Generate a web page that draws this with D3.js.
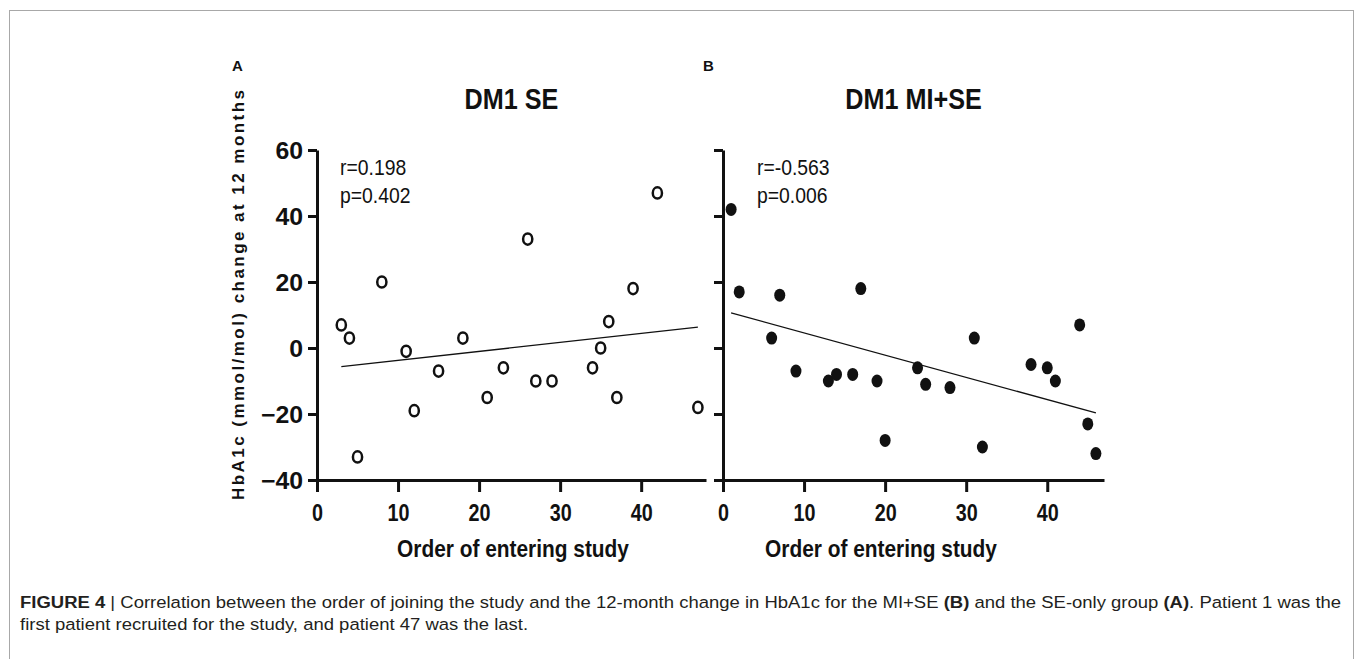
<!DOCTYPE html>
<html>
<head>
<meta charset="utf-8">
<script src="https://cdn.jsdelivr.net/npm/d3@7"></script>
<style>
  body { margin: 0; background: #fff; }
  svg { display: block; }
</style>
</head>
<body>
<div id="chart"></div>
<script>
// Panel A: SE only (open circles)
const seOrder  = [3, 4, 5, 8, 11, 12, 15, 18, 21, 23, 26, 27, 29, 34, 35, 36, 37, 39, 42, 47];
const seChange = [7, 3, -33, 20, -1, -19, -7, 3, -15, -6, 33, -10, -10, -6, 0, 8, -15, 18, 47, -18];
// Panel B: MI+SE (filled circles)
const miseOrder  = [1, 2, 6, 7, 9, 13, 14, 16, 17, 19, 20, 24, 25, 28, 31, 32, 38, 40, 41, 44, 45, 46];
const miseChange = [42, 17, 3, 16, -7, -10, -8, -8, 18, -10, -28, -6, -11, -12, 3, -30, -5, -6, -10, 7, -23, -32];

const yTicks = [-40, -20, 0, 20, 40, 60];
const xTicks = [0, 10, 20, 30, 40];
const panelLetters = ['A', 'B'];
const panelTitles = ['DM1 SE', 'DM1 MI+SE'];
const panelStats = [['r=0.198', 'p=0.402'], ['r=-0.563', 'p=0.006']];
const yTitle = 'HbA1c (mmol/mol) change at 12 months';
const xTitle = 'Order of entering study';

const W = 1355, H = 659;
const FONT = "'Liberation Sans', Arial, Helvetica, sans-serif";

const svg = d3.select('#chart').append('svg')
  .attr('width', W)
  .attr('height', H);

// cadre gris autour de la figure
svg.append('rect')
  .attr('x', 9.5).attr('y', 10.5)
  .attr('width', 1344).attr('height', 700)
  .attr('fill', 'none')
  .attr('stroke', '#a8a8a8')
  .attr('stroke-width', 1);

// texte étroit : on compresse horizontalement
function label(g, x, y, txt, size, weight, sx, anchor) {
  return g.append('text')
    .attr('transform', `translate(${x},${y}) scale(${sx},1)`)
    .attr('text-anchor', anchor || 'middle')
    .attr('font-family', FONT)
    .attr('font-size', size)
    .attr('font-weight', weight)
    .attr('fill', '#111')
    .text(txt);
}

const y = d3.scaleLinear().domain([-40, 60]).range([480, 150]);

const panels = [
  { xs: seOrder, ys: seChange, xRange: [317, 706], xMax: 48, filled: false, yLabels: true,
    letterX: 232, statsX: 340, xTitleX: 513 },
  { xs: miseOrder, ys: miseChange, xRange: [723, 1104], xMax: 47, filled: true, yLabels: false,
    letterX: 703, statsX: 757, xTitleX: 881 }
];

panels.forEach((p, i) => {
  const g = svg.append('g');
  const x = d3.scaleLinear().domain([0, p.xMax]).range(p.xRange);
  const x0 = p.xRange[0];
  const cx = (p.xRange[0] + p.xRange[1]) / 2;

  // axe Y
  const yAxis = d3.axisLeft(y).tickValues(yTicks).tickSize(9).tickSizeOuter(0)
    .tickFormat(p.yLabels ? d3.format('d') : () => '');
  const gy = g.append('g').attr('transform', `translate(${x0},0)`).call(yAxis);
  gy.selectAll('path, line').attr('stroke', '#111').attr('stroke-width', 3);
  const syY = 1.08;
  gy.selectAll('text')
    .attr('font-family', FONT).attr('font-size', 23).attr('font-weight', 'bold')
    .attr('fill', '#111')
    .attr('x', -14 / syY).attr('dy', '0.36em')
    .attr('transform', `scale(${syY},1)`);

  // axe X
  const xAxis = d3.axisBottom(x).tickValues(xTicks).tickSize(12).tickSizeOuter(0)
    .tickFormat(d3.format('d'));
  const gx = g.append('g').attr('transform', `translate(0,${y(-40)})`).call(xAxis);
  gx.selectAll('path, line').attr('stroke', '#111').attr('stroke-width', 3);
  gx.selectAll('text')
    .attr('font-family', FONT).attr('font-size', 23).attr('font-weight', 'bold')
    .attr('fill', '#111')
    .attr('x', 0).attr('y', 0).attr('dy', '1.78em')
    .attr('transform', 'scale(0.86,1)');

  // droite de régression (moindres carrés)
  const mx = d3.mean(p.xs), my = d3.mean(p.ys);
  const sxy = d3.sum(p.xs, (v, k) => (v - mx) * (p.ys[k] - my));
  const sxx = d3.sum(p.xs, v => (v - mx) * (v - mx));
  const slope = sxy / sxx, icpt = my - slope * mx;
  const [xa, xb] = d3.extent(p.xs);
  g.append('line')
    .attr('x1', x(xa)).attr('y1', y(icpt + slope * xa))
    .attr('x2', x(xb)).attr('y2', y(icpt + slope * xb))
    .attr('stroke', '#111').attr('stroke-width', 1.3);

  // points
  const pts = p.xs.map((v, k) => ({ x: v, y: p.ys[k] }));
  g.append('g').selectAll('ellipse')
    .data(pts)
    .enter()
    .append('ellipse')
    .attr('cx', d => x(d.x))
    .attr('cy', d => y(d.y))
    .attr('rx', p.filled ? 5.5 : 4.6)
    .attr('ry', p.filled ? 6.5 : 5.6)
    .attr('fill', p.filled ? '#111' : '#fff')
    .attr('stroke', '#111')
    .attr('stroke-width', p.filled ? 0 : 2.5);

  // lettre du panneau
  g.append('text')
    .attr('x', p.letterX).attr('y', 71)
    .attr('font-family', FONT).attr('font-size', 15).attr('font-weight', 'bold')
    .attr('fill', '#111')
    .text(panelLetters[i]);

  // titre
  label(g, cx, 109, panelTitles[i], 30, 'bold', 0.84);

  // r et p
  label(g, p.statsX, 175, panelStats[i][0], 22, 'normal', 0.88, 'start');
  label(g, p.statsX, 203, panelStats[i][1], 22, 'normal', 0.88, 'start');

  // titre axe X
  label(g, p.xTitleX, 557, xTitle, 24, 'bold', 0.87);
});

// titre axe Y
svg.append('text')
  .attr('transform', 'translate(244,295) rotate(-90)')
  .attr('text-anchor', 'middle')
  .attr('font-family', FONT).attr('font-size', 17).attr('font-weight', 'bold')
  .attr('fill', '#111')
  .attr('textLength', 410).attr('lengthAdjust', 'spacing')
  .text(yTitle);

// légende de la figure
const cap = svg.append('g').attr('font-family', FONT).attr('font-size', 17).attr('fill', '#231f20');
const line1 = cap.append('text').attr('y', 0);
line1.append('tspan').attr('font-weight', 'bold').text('FIGURE 4');
line1.append('tspan').text(' | Correlation between the order of joining the study and the 12-month change in HbA1c for the MI+SE ');
line1.append('tspan').attr('font-weight', 'bold').text('(B)');
line1.append('tspan').text(' and the SE-only group ');
line1.append('tspan').attr('font-weight', 'bold').text('(A)');
line1.append('tspan').text('. Patient 1 was the');
cap.append('text').attr('y', 22)
  .text('first patient recruited for the study, and patient 47 was the last.');
const capScale = 1322 / line1.node().getComputedTextLength();
cap.attr('transform', `translate(20,608) scale(${capScale},1)`);
</script>
</body>
</html>
